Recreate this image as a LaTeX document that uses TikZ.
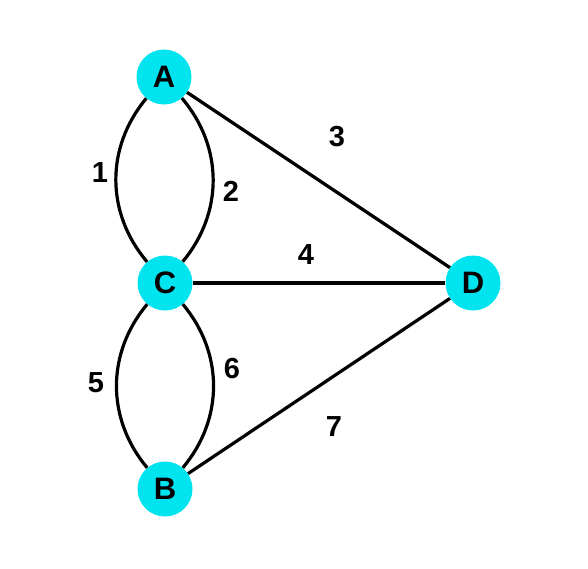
\documentclass[tikz,border=0pt]{standalone}
\usepackage{fontspec}
\setmainfont{Liberation Sans}
\definecolor{nodecyan}{RGB}{0,228,240}
\begin{document}
\begin{tikzpicture}[x=1pt,y=-1pt,
  vertex/.style={circle,fill=nodecyan,draw=none,minimum size=55pt,inner sep=0pt,
    font=\fontsize{31}{36}\selectfont\bfseries},
  edge/.style={line width=3.2pt,black},
  elabel/.style={font=\fontsize{29}{34}\selectfont\bfseries,inner sep=0pt}]
\useasboundingbox (0,0) rectangle (588,568);
\node[vertex] (A) at (164,77) {A};
\node[vertex] (C) at (165,283) {C};
\node[vertex] (B) at (165,489) {B};
\node[vertex] (D) at (473,283) {D};
\draw[edge] (A) to[bend right=40] (C);
\draw[edge] (A) to[bend left=40] (C);
\draw[edge] (C) to[bend right=40] (B);
\draw[edge] (C) to[bend left=40] (B);
\draw[edge] (A) -- (D);
\draw[edge] (C) -- (D);
\draw[edge] (B) -- (D);
\node[elabel] (l1) at (100,173) {1};
\node[elabel] (l2) at (231,191) {2};
\node[elabel] (l3) at (337,137) {3};
\node[elabel] (l4) at (306,255) {4};
\node[elabel] (l5) at (96,383) {5};
\node[elabel] (l6) at (232,369) {6};
\node[elabel] (l7) at (334,427) {7};
\end{tikzpicture}
\end{document}
